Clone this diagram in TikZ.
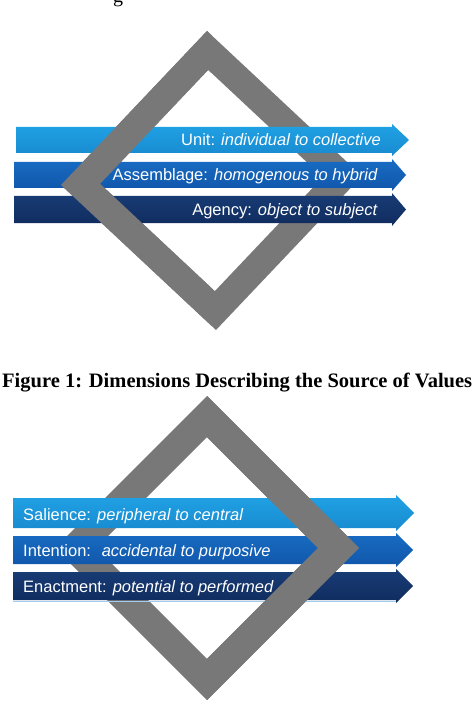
\documentclass[tikz,border=0pt]{standalone}
\usepackage{fontspec}
\setmainfont{Liberation Serif}
\newfontfamily\arialfam{Liberation Sans}
\usetikzlibrary{calc}
\definecolor{cone}{RGB}{32,162,228}
\definecolor{coneb}{RGB}{24,138,208}
\definecolor{ctwo}{RGB}{24,108,195}
\definecolor{ctwob}{RGB}{16,86,170}
\definecolor{cthree}{RGB}{24,60,118}
\definecolor{cthreeb}{RGB}{16,44,94}
\definecolor{dgray}{RGB}{120,120,120}
\definecolor{paleblue}{RGB}{160,205,235}
\tikzset{
  lbl/.style={text=white, font=\arialfam\fontsize{16.5}{18}\selectfont, inner sep=0pt},
  ringfill/.style={fill=dgray, even odd rule},
  captext/.style={font=\bfseries\fontsize{20.5}{24}\selectfont, inner sep=0pt},
}
% #1 x0, #2 y top, #3 y bottom, #4 x body end, #5 x tip, #6 top colour, #7 bottom colour
\newcommand\bandarrow[7]{%
  \shade[top color=#6, bottom color=#7]
    (#1,#2) -- (#4,#2) -- (#4,{#2-3}) -- (#5,{(#2+#3)/2}) -- (#4,{#3+3}) -- (#4,#3) -- (#1,#3) -- cycle;
}
\begin{document}
\begin{tikzpicture}[x=1pt,y=-1pt]
\useasboundingbox (0,0) rectangle (474,703);
\fill[white] (0,0) rectangle (474,703);
\clip (0,0) rectangle (474,703);

% fragment of a line above
\node[anchor=base west, font=\fontsize{20}{24}\selectfont, inner sep=0pt] (frag) at (113,3) {g};

% ---------- top figure ----------
\coordinate (t1) at (207,31);
\coordinate (l1) at (61,185);
\coordinate (b1) at (216,330);
\coordinate (r1) at (362,176);
\coordinate (c1) at (211.5,180.5);
\newcommand\ringone{%
  (t1) -- (r1) -- (b1) -- (l1) -- cycle
  ($(c1)!0.74!(t1)$) -- ($(c1)!0.74!(r1)$) -- ($(c1)!0.74!(b1)$) -- ($(c1)!0.74!(l1)$) -- cycle}
\fill[ringfill] \ringone;

\bandarrow{16}{127}{153}{392}{409}{cone}{coneb}
\bandarrow{14}{162}{188}{392}{406}{ctwo}{ctwob}
\bandarrow{14}{196}{223}{392}{406}{cthree}{cthreeb}

\node[lbl, anchor=base east] (unit) at (381,146) {Unit: \textit{individual to collective}};
\node[lbl, anchor=base east] (assem) at (378,181) {Assemblage: \textit{homogenous to hybrid}};
\node[lbl, anchor=base east] (agency) at (378,215.5) {Agency: \textit{object to subject}};

\begin{scope}
  \clip (0,0) rectangle (211.5,360);
  \fill[ringfill] \ringone;
\end{scope}

% caption
\node[captext, anchor=base west] (cap) at (2,387) {Figure 1: Dimensions Describing the Source of Values};

% ---------- bottom figure ----------
\coordinate (t2) at (207,396);
\coordinate (l2) at (55,548);
\coordinate (b2) at (207,700);
\coordinate (r2) at (359,548);
\coordinate (c2) at (207,548);
\newcommand\ringtwo{%
  (t2) -- (r2) -- (b2) -- (l2) -- cycle
  ($(c2)!0.73!(t2)$) -- ($(c2)!0.73!(r2)$) -- ($(c2)!0.73!(b2)$) -- ($(c2)!0.73!(l2)$) -- cycle}
\fill[ringfill] \ringtwo;

\bandarrow{13}{498}{528}{396}{414}{cone}{coneb}
\bandarrow{13}{536}{564}{396}{413}{ctwo}{ctwob}
\bandarrow{13}{572}{600}{396}{413}{cthree}{cthreeb}
\draw[paleblue, line width=1pt] (13,601) -- (396,601);

\node[lbl, anchor=base west] (sal) at (23,520) {Salience: \textit{peripheral to central}};
\node[lbl, anchor=base west] (intn) at (23,556) {Intention: \ \textit{accidental to purposive}};
\node[lbl, anchor=base west] (enact) at (23,592) {Enactment: \textit{potential to performed}};

\begin{scope}
  \clip (207,380) rectangle (474,703);
  \fill[ringfill] \ringtwo;
\end{scope}
\end{tikzpicture}
\end{document}
